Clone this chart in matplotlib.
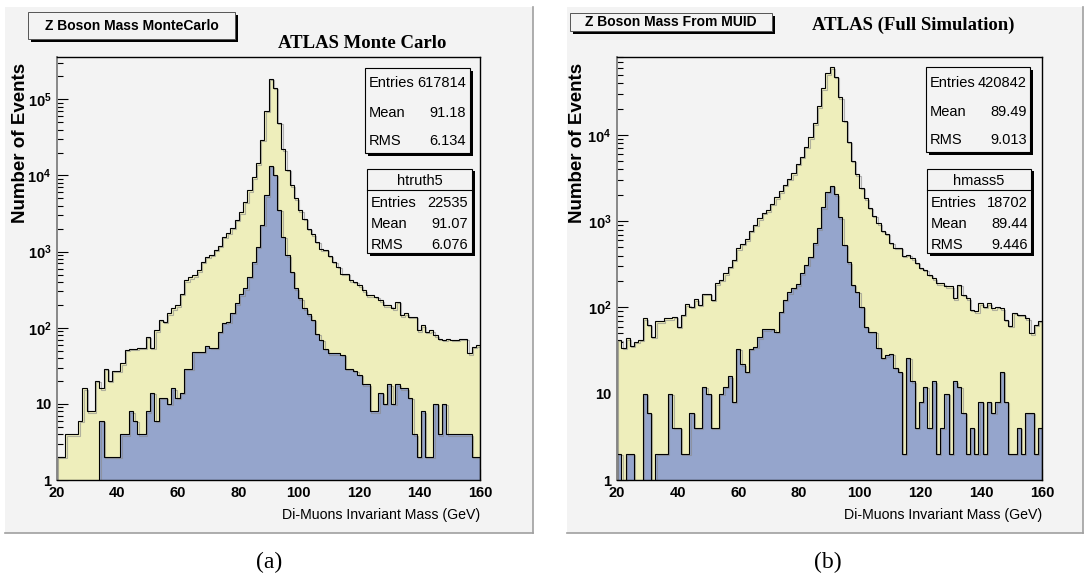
import numpy as np
import matplotlib
matplotlib.use('Agg')
import matplotlib.pyplot as plt
from matplotlib.patches import Rectangle
from matplotlib.lines import Line2D
from matplotlib.ticker import NullFormatter
import matplotlib.patheffects as pe

# bin contents, 100 bins of 1.4 GeV between 20 and 160 GeV
mass_lo, mass_hi, n_bins = 20, 160, 100

mc_all = [2, 2, 4, 4, 4, 6, 16, 8, 8, 20,
          16, 29, 20, 27, 27, 34, 51, 53, 53, 55,
          55, 76, 55, 93, 126, 120, 154, 179, 198, 281,
          420, 460, 490, 570, 730, 850, 900, 1050, 1200, 1570,
          1780, 2050, 2600, 3300, 4500, 6400, 9500, 14500, 29600, 71000,
          187000, 142000, 49000, 22000, 11900, 7400, 5000, 3500, 2700, 2000,
          1680, 1350, 1070, 1060, 880, 730, 630, 515, 515, 420,
          400, 362, 311, 268, 268, 254, 230, 198, 198, 179,
          219, 146, 154, 139, 139, 93, 108, 88, 93, 80,
          72, 69, 72, 69, 69, 72, 72, 46, 56, 59]

mc_truth = [0, 0, 0, 0, 0, 0, 0, 0, 0, 0,
            6, 2, 2, 2, 2, 4, 4, 8, 6, 4,
            4, 8, 14, 6, 12, 12, 10, 16, 12, 14,
            29, 29, 48, 48, 48, 57, 55, 55, 88, 116,
            120, 157, 209, 274, 328, 470, 720, 1150, 2270, 5500,
            13500, 10300, 3560, 1560, 895, 540, 328, 245, 180, 150,
            126, 84, 69, 53, 46, 46, 46, 44, 29, 29,
            27, 24, 18, 18, 8, 8, 14, 10, 18, 10,
            18, 16, 16, 12, 4, 2, 8, 2, 2, 10,
            4, 10, 4, 4, 4, 4, 4, 4, 2, 2]

muid_all = [42, 34, 44, 36, 40, 42, 75, 63, 46, 69,
            69, 75, 75, 78, 60, 82, 109, 102, 124, 107,
            144, 144, 122, 190, 208, 250, 297, 355, 486, 545,
            617, 771, 905, 1080, 1260, 1330, 1590, 1900, 2230, 2650,
            3100, 3600, 4590, 5530, 7230, 9350, 13650, 21500, 34800, 51900,
            61000, 47500, 27400, 14500, 8370, 5040, 3500, 2450, 1845, 1440,
            1160, 946, 771, 711, 564, 494, 489, 395, 406, 370,
            330, 290, 272, 238, 218, 190, 190, 175, 175, 128,
            182, 140, 128, 94, 90, 112, 102, 112, 98, 102,
            98, 72, 61, 86, 82, 82, 75, 50, 63, 70]

muid_sel = [2, 0, 2, 2, 0, 0, 10, 6, 0, 2,
            2, 2, 10, 4, 4, 2, 2, 6, 4, 4,
            12, 10, 4, 4, 10, 12, 16, 8, 33, 22,
            18, 33, 35, 45, 56, 56, 57, 52, 89, 122,
            150, 170, 186, 249, 311, 388, 555, 828, 1450, 2200,
            2560, 2050, 1110, 531, 334, 182, 153, 102, 60, 52,
            52, 34, 26, 28, 29, 20, 18, 2, 26, 14,
            4, 8, 12, 4, 14, 2, 4, 10, 2, 14,
            12, 6, 2, 4, 2, 8, 2, 8, 6, 8,
            18, 8, 2, 2, 4, 2, 6, 6, 2, 4]

x_ticks = [20, 40, 60, 80, 100, 120, 140, 160]
stats_a = [("Entries", "617814"), ("Mean", "91.18"), ("RMS", "6.134")]
stats_a2 = [("Entries", "22535"), ("Mean", "91.07"), ("RMS", "6.076")]
stats_b = [("Entries", "420842"), ("Mean", "89.49"), ("RMS", "9.013")]
stats_b2 = [("Entries", "18702"), ("Mean", "89.44"), ("RMS", "9.446")]

BG = '#f3f3f3'
YELLOW = '#eeeebb'
BLUE = '#95a5cc'
SANS = ['Liberation Sans', 'DejaVu Sans']
SERIF = ['Liberation Serif', 'DejaVu Serif']

W, H = 1084, 576
fig = plt.figure(figsize=(W / 100, H / 100), dpi=100)
fig.patch.set_facecolor('white')


def fx(x):
    return x / W


def fy(y):
    return 1 - y / H


def rect(x0, y0, x1, y1, fc, ec='none', lw=0.8, z=0):
    r = Rectangle((fx(x0), fy(y1)), (x1 - x0) / W, (y1 - y0) / H,
                  transform=fig.transFigure, facecolor=fc, edgecolor=ec,
                  linewidth=lw, zorder=z)
    fig.add_artist(r)


def line(xs, ys, color, lw=1.0, z=1):
    fig.add_artist(Line2D([fx(v) for v in xs], [fy(v) for v in ys],
                          transform=fig.transFigure, color=color, lw=lw, zorder=z))


def text(x, y, s, **kw):
    fig.text(fx(x), fy(y), s, **kw)


def canvas(x0, x1):
    rect(x0, 7, x1, 533, BG, z=-5)
    line([x1, x1], [7, 533], '#a0a0a0', 1.2, z=-4)
    line([x0, x1], [533, 533], '#a0a0a0', 1.2, z=-4)


def title_box(x0, y0, x1, y1, s, ty):
    rect(x0 + 3, y0 + 3, x1 + 3, y1 + 3, 'black', z=5)
    rect(x0, y0, x1, y1, BG, ec='#555555', lw=0.7, z=6)
    text((x0 + x1) / 2, ty, s, ha='center', va='center', fontsize=10,
         fontweight='bold', family=SANS, zorder=7)


def stat_box(x0, y0, x1, y1, rows, row_y, lx, rx, header=None):
    rect(x0 + 2.5, y0 + 2.5, x1 + 2.5, y1 + 2.5, 'black', z=5)
    rect(x0, y0, x1, y1, BG, ec='black', lw=0.8, z=6)
    if header is not None:
        text((x0 + x1) / 2, 181, header, ha='center', va='center',
             fontsize=10.5, family=SANS, zorder=7)
        line([x0, x1], [190, 190], 'black', 0.8, z=7)
    for (lab, val), yy in zip(rows, row_y):
        text(lx, yy, lab, ha='left', va='center', fontsize=10.5,
             family=SANS, zorder=7)
        text(rx, yy, val, ha='right', va='center', fontsize=10.5,
             family=SANS, zorder=7)


edges = np.linspace(mass_lo, mass_hi, n_bins + 1)
shadow = [pe.SimpleLineShadow(offset=(1, -1), shadow_color='#888888', alpha=0.6),
          pe.Normal()]


def panel(x0, x1, total, sel, yticks, ymax):
    ax = fig.add_axes([fx(x0), fy(480), (x1 - x0) / W, (480 - 57) / H])
    ax.set_facecolor(BG)
    for vals, col in [(total, YELLOW), (sel, BLUE)]:
        v = np.maximum(np.array(vals, dtype=float), 0.5)
        ax.stairs(v, edges, baseline=0.5, fill=True, color=col, zorder=1)
        ax.stairs(v, edges, baseline=0.5, color='black', lw=0.8, zorder=1.1,
                  path_effects=shadow)
    ax.set_yscale('log')
    ax.set_xlim(mass_lo, mass_hi)
    ax.set_ylim(1, ymax)
    ax.set_axisbelow(True)
    ax.set_xticks(x_ticks)
    ax.set_xticklabels([str(t) for t in x_ticks], family=SANS, fontweight='bold')
    labs = []
    for t in yticks:
        if t == 1:
            labs.append('1')
        elif t == 10:
            labs.append('10')
        else:
            labs.append(r'$\mathregular{10^{%d}}$' % int(round(np.log10(t))))
    ax.set_yticks(yticks)
    ax.set_yticklabels(labs, family=SANS, fontweight='bold')
    ax.yaxis.set_minor_formatter(NullFormatter())
    ax.tick_params(axis='both', which='major', direction='in', length=8,
                   width=0.8, labelsize=10.5, pad=4)
    ax.tick_params(axis='both', which='minor', direction='in', length=4.5,
                   width=0.8)
    ax.tick_params(top=False, right=False, which='both')
    for s in ['top', 'right', 'bottom']:
        ax.spines[s].set_linewidth(1.0)
    ax.spines['left'].set_color('#888888')
    ax.spines['left'].set_linewidth(1.4)
    return ax


# panel (a)
canvas(5, 533)
ax_a = panel(57, 480, mc_all, mc_truth, [1, 10, 1e2, 1e3, 1e4, 1e5], 3.6e5)
title_box(28, 12, 235, 39, 'Z Boson Mass MonteCarlo', 26)
text(362, 43, 'ATLAS Monte Carlo', ha='center', va='center', fontsize=13.5,
     fontweight='bold', family=SERIF)
stat_box(365, 68, 470, 153, stats_a, [83, 113, 141], 369, 466)
stat_box(367, 169, 472, 253, stats_a2, [203, 224, 245], 371, 468, header='htruth5')
text(21, 143, 'Number of Events', rotation=90, ha='center', va='center',
     fontsize=13.5, fontweight='bold', family=SANS)
text(480, 515, 'Di-Muons Invariant Mass (GeV)', ha='right', va='center',
     fontsize=10.2, family=SANS)

# panel (b)
canvas(567, 1083)
ax_b = panel(617, 1042, muid_all, muid_sel, [1, 10, 1e2, 1e3, 1e4], 8.0e4)
title_box(570, 13, 772, 31, 'Z Boson Mass From MUID', 22)
text(913, 25, 'ATLAS (Full Simulation)', ha='center', va='center',
     fontsize=13.5, fontweight='bold', family=SERIF)
stat_box(926, 67, 1030, 152, stats_b, [83, 112, 140], 930, 1027)
stat_box(927, 169, 1031, 253, stats_b2, [203, 224, 245], 931, 1028, header='hmass5')
text(578, 143, 'Number of Events', rotation=90, ha='center', va='center',
     fontsize=13.5, fontweight='bold', family=SANS)
text(1042, 515, 'Di-Muons Invariant Mass (GeV)', ha='right', va='center',
     fontsize=10.2, family=SANS)

# captions
text(269, 562, '(a)', ha='center', va='center', fontsize=17, family=SERIF)
text(828, 562, '(b)', ha='center', va='center', fontsize=17, family=SERIF)

fig.savefig('out.png', dpi=100, facecolor='white')
